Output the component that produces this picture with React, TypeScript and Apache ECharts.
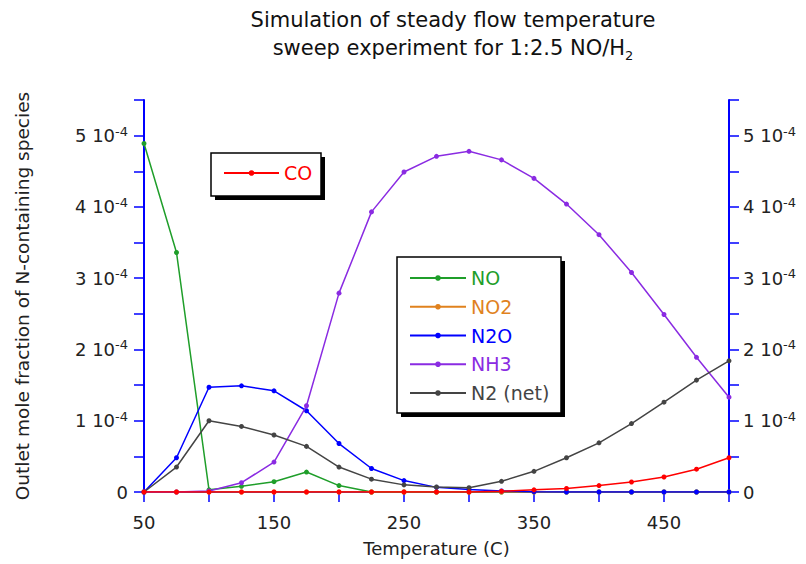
import React, { useEffect, useRef } from "react";
import * as echarts from "echarts";

// Temperatures (C)
const temperatures = [50, 75, 100, 125, 150, 175, 200, 225, 250, 275, 300, 325, 350, 375, 400, 425, 450, 475, 500];

// Outlet mole fractions, in units of 1e-4
const NO = [4.89, 3.36, 0.03, 0.08, 0.145, 0.28, 0.09, 0, 0, 0, 0, 0, 0, 0, 0, 0, 0, 0, 0];
const NO2 = [0, 0, 0, 0, 0, 0, 0, 0, 0, 0, 0, 0, 0, 0, 0, 0, 0, 0, 0];
const N2O = [0, 0.48, 1.47, 1.49, 1.42, 1.14, 0.68, 0.33, 0.16, 0.065, 0.035, 0.015, 0.005, 0, 0, 0, 0, 0, 0];
const NH3 = [0, 0, 0.015, 0.13, 0.42, 1.21, 2.79, 3.93, 4.49, 4.71, 4.78, 4.66, 4.4, 4.04, 3.61, 3.08, 2.49, 1.89, 1.33];
const N2 = [0, 0.35, 1.0, 0.92, 0.8, 0.64, 0.35, 0.18, 0.1, 0.07, 0.06, 0.15, 0.29, 0.48, 0.69, 0.96, 1.26, 1.57, 1.84];
const CO = [0, 0, 0, 0, 0, 0, 0, 0, 0, 0, 0, 0.01, 0.03, 0.05, 0.09, 0.14, 0.21, 0.32, 0.48];

const seriesNames = ["NO", "NO2", "N2O", "NH3", "N2 (net)", "CO"];
const seriesData = [NO, NO2, N2O, NH3, N2, CO];
const seriesColors = ["#1f9e2a", "#e0821e", "#0000ff", "#8a2be2", "#444444", "#ff0000"];

const xLabels = [50, 150, 250, 350, 450];

const FONT = "DejaVu Sans";
const AXIS_BLUE = "#0000ff";
const TEXT = "#222222";

function yLabel(v: number): string {
  if (Math.abs(v) < 1e-9) return "{n|0}";
  const k = Math.round(v * 2) / 2;
  if (Math.abs(k - Math.round(k)) > 1e-6) return "";
  return `{n|${Math.round(k)} 10}{s|-4}`;
}

const yRich = {
  n: { fontSize: 18, fontFamily: FONT, color: TEXT, lineHeight: 22 },
  s: { fontSize: 13, fontFamily: FONT, color: TEXT, lineHeight: 13, verticalAlign: "top" },
};

export default function App() {
  const ref = useRef<HTMLDivElement>(null);

  useEffect(() => {
    if (!ref.current) return;
    const chart = echarts.init(ref.current, undefined, { renderer: "svg" });

    const yAxisBase = {
      type: "value",
      min: 0,
      max: 5.5,
      interval: 0.5,
      splitLine: { show: false },
      axisLine: { show: true, lineStyle: { color: AXIS_BLUE, width: 2 } },
      axisTick: { show: true, length: 10, lineStyle: { color: AXIS_BLUE, width: 1.5 } },
    };

    const series = seriesNames.map((name, i) => ({
      name,
      type: "line",
      data: temperatures.map((t, j) => [t, seriesData[i][j]]),
      symbol: "circle",
      symbolSize: 5,
      showSymbol: true,
      lineStyle: { color: seriesColors[i], width: 1.5 },
      itemStyle: { color: seriesColors[i] },
      z: 2 + i * 0.01,
    }));

    const legendText = { fontSize: 19, fontFamily: FONT, lineHeight: 20 };

    chart.setOption({
      animation: false,
      backgroundColor: "#ffffff",
      grid: { left: 144, right: 77, top: 100, bottom: 72, containLabel: false },
      xAxis: {
        type: "value",
        min: 50,
        max: 500,
        interval: 50,
        name: "Temperature (C)",
        nameLocation: "middle",
        nameGap: 47,
        nameTextStyle: { fontSize: 18, fontFamily: FONT, color: TEXT },
        splitLine: { show: false },
        axisLine: { show: true, onZero: false, lineStyle: { color: AXIS_BLUE, width: 2 } },
        axisTick: { show: true, length: 10, lineStyle: { color: AXIS_BLUE, width: 1.5 } },
        axisLabel: {
          margin: 21,
          fontSize: 18,
          fontFamily: FONT,
          color: TEXT,
          formatter: (v: number) => (xLabels.indexOf(Math.round(v)) >= 0 ? String(Math.round(v)) : ""),
        },
      },
      yAxis: [
        {
          ...yAxisBase,
          position: "left",
          name: "Outlet mole fraction of N-containing species",
          nameLocation: "middle",
          nameGap: 112,
          nameTextStyle: { fontSize: 18.5, fontFamily: FONT, color: TEXT },
          axisLabel: { margin: 16, formatter: yLabel, rich: yRich, fontSize: 18, fontFamily: FONT, color: TEXT },
        },
        {
          ...yAxisBase,
          position: "right",
          axisLabel: { margin: 14, formatter: yLabel, rich: yRich, fontSize: 18, fontFamily: FONT, color: TEXT },
        },
      ],
      legend: [
        {
          data: [{ name: "CO", textStyle: { color: seriesColors[5] } }],
          orient: "vertical",
          left: 223,
          top: 163,
          padding: 0,
          itemWidth: 55,
          itemHeight: 7,
          selectedMode: false,
          textStyle: legendText,
          z: 20,
        },
        {
          data: seriesNames.slice(0, 5).map((n, i) => ({ name: n, textStyle: { color: seriesColors[i] } })),
          orient: "vertical",
          left: 409,
          top: 268,
          padding: 0,
          itemGap: 8.75,
          itemWidth: 56,
          itemHeight: 7,
          selectedMode: false,
          textStyle: legendText,
          z: 20,
        },
      ],
      graphic: [
        {
          type: "text",
          x: 453,
          y: 20,
          z: 5,
          style: {
            text: "Simulation of steady flow temperature",
            fontSize: 21,
            fontFamily: FONT,
            fill: "#111111",
            align: "center",
            verticalAlign: "middle",
          },
        },
        {
          type: "text",
          x: 453,
          y: 48,
          z: 5,
          style: {
            text: "{m|sweep experiment for 1:2.5 NO/H}{sub|2}",
            fill: "#111111",
            align: "center",
            verticalAlign: "middle",
            rich: {
              m: { fontSize: 21, fontFamily: FONT, fill: "#111111", lineHeight: 28 },
              sub: { fontSize: 13, fontFamily: FONT, fill: "#111111", lineHeight: 13, verticalAlign: "bottom" },
            },
          },
        },
        { type: "rect", z: 10, shape: { x: 215, y: 157, width: 110, height: 43 }, style: { fill: "#000000" } },
        {
          type: "rect",
          z: 11,
          shape: { x: 211, y: 153, width: 110, height: 43 },
          style: { fill: "#ffffff", stroke: "#000000", lineWidth: 1.5 },
        },
        { type: "rect", z: 10, shape: { x: 401, y: 261, width: 164, height: 156 }, style: { fill: "#000000" } },
        {
          type: "rect",
          z: 11,
          shape: { x: 397, y: 257, width: 164, height: 156 },
          style: { fill: "#ffffff", stroke: "#000000", lineWidth: 1.5 },
        },
      ],
      series,
    });

    return () => chart.dispose();
  }, []);

  return (
    <div
      ref={ref}
      style={{ position: "fixed", left: 0, top: 0, width: 806, height: 564, background: "#fff" }}
    />
  );
}
